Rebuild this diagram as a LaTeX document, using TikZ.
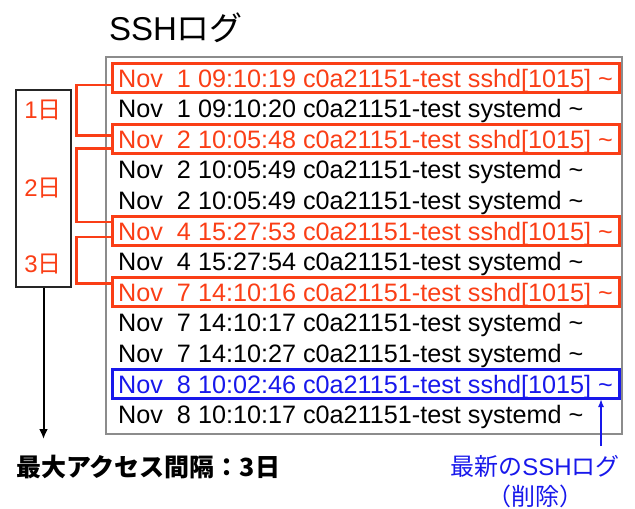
\documentclass[tikz,border=0pt]{standalone}
\usepackage{fontspec}
\setmainfont{Liberation Sans}
\newfontfamily\jp{Noto Sans CJK JP}
\usetikzlibrary{arrows.meta}
\definecolor{logred}{RGB}{250,62,22}
\definecolor{logblue}{RGB}{24,24,235}
\definecolor{framegray}{RGB}{140,140,140}
\begin{document}
\begin{tikzpicture}[x=1pt,y=-1pt,
  logtext/.style={anchor=base west, inner sep=0pt, font=\fontsize{25.2}{25}\selectfont},
  hlbox/.style={draw, line width=3pt, minimum width=507pt, minimum height=29pt, inner sep=0pt},
  redbox/.style={hlbox, draw=logred},
  bluebox/.style={hlbox, draw=logblue},
  bracket/.style={draw=logred, line width=2.6pt},
  daylbl/.style={text=logred, inner sep=0pt, font=\fontsize{24}{24}\selectfont},
]
\useasboundingbox (0,0) rectangle (635,509);

% title
\node[font=\fontsize{33}{33}\selectfont, inner sep=0pt] (title) at (176,28) {SSH{\jp ログ}};

% frame
\node[draw=framegray, line width=1.2pt, minimum width=516pt, minimum height=377pt, inner sep=0pt] (frame) at (364,245.5) {};

% highlight boxes
\node[redbox] (b1) at (365.5,78) {};
\node[redbox] (b3) at (365.5,139.2) {};
\node[redbox] (b6) at (365.5,231) {};
\node[redbox] (b8) at (365.5,292.2) {};
\node[bluebox] (b11) at (365.5,384) {};

% log lines
\node[logtext, text=logred] (r1) at (118,87) {Nov\ \ 1 09:10:19 c0a21151-test sshd[1015] \textasciitilde};
\node[logtext] (r2) at (118,117.6) {Nov\ \ 1 09:10:20 c0a21151-test systemd \textasciitilde};
\node[logtext, text=logred] (r3) at (118,148.2) {Nov\ \ 2 10:05:48 c0a21151-test sshd[1015] \textasciitilde};
\node[logtext] (r4) at (118,178.8) {Nov\ \ 2 10:05:49 c0a21151-test systemd \textasciitilde};
\node[logtext] (r5) at (118,209.4) {Nov\ \ 2 10:05:49 c0a21151-test systemd \textasciitilde};
\node[logtext, text=logred] (r6) at (118,240) {Nov\ \ 4 15:27:53 c0a21151-test sshd[1015] \textasciitilde};
\node[logtext] (r7) at (118,270.6) {Nov\ \ 4 15:27:54 c0a21151-test systemd \textasciitilde};
\node[logtext, text=logred] (r8) at (118,301.2) {Nov\ \ 7 14:10:16 c0a21151-test sshd[1015] \textasciitilde};
\node[logtext] (r9) at (118,331.8) {Nov\ \ 7 14:10:17 c0a21151-test systemd \textasciitilde};
\node[logtext] (r10) at (118,362.4) {Nov\ \ 7 14:10:27 c0a21151-test systemd \textasciitilde};
\node[logtext, text=logblue] (r11) at (118,393) {Nov\ \ 8 10:02:46 c0a21151-test sshd[1015] \textasciitilde};
\node[logtext] (r12) at (118,423.6) {Nov\ \ 8 10:10:17 c0a21151-test systemd \textasciitilde};

% brackets
\draw[bracket] ([yshift=-7pt]b1.west) -- ++(-34,0) |- ([yshift=4pt]b3.west);
\draw[bracket] ([yshift=-9pt]b3.west) -- ++(-34,0) |- ([yshift=9pt]b6.west);
\draw[bracket] ([yshift=-6pt]b6.west) -- ++(-34,0) |- ([yshift=9pt]b8.west);

% day box
\node[draw=black!85, line width=1.4pt, minimum width=55pt, minimum height=197pt, inner sep=0pt] (days) at (43.5,188.5) {};
\node[daylbl] (d1) at (43,110) {1{\jp 日}};
\node[daylbl] (d2) at (43,188) {2{\jp 日}};
\node[daylbl] (d3) at (43,264) {3{\jp 日}};

% max interval
\node[anchor=west, inner sep=0pt, font=\fontsize{25}{25}\selectfont\jp\bfseries] (maxlbl) at (16,467) {最大アクセス間隔：3日};
\coordinate (arrend) at (43.5,439);
\draw[line width=2pt, -{Latex[length=10pt,width=9pt]}] (days.south) -- (arrend);

% newest label
\node[text=logblue, inner sep=0pt, align=center, font=\fontsize{24}{30}\selectfont] (newest) at (535,482) {{\jp 最新の}SSH{\jp ログ}\\{\jp （削除）}};
\coordinate (btail) at (601,446);
\coordinate (bhead) at (601,399);
\draw[logblue, line width=1.5pt, -{Latex[length=8pt,width=6pt]}] (btail) -- (bhead);
\end{tikzpicture}
\end{document}
